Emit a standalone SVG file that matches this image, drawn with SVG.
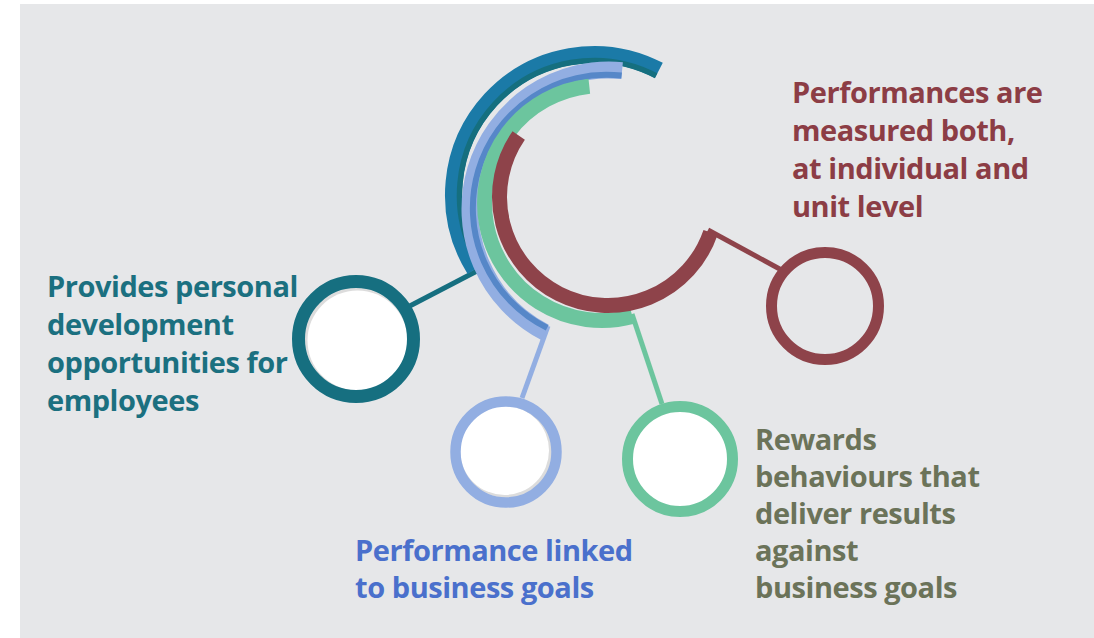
<svg xmlns="http://www.w3.org/2000/svg" width="1094" height="638" viewBox="0 0 1094 638">
<style>
.t{font-family:"Open Sans","Noto Sans",sans-serif;font-weight:700;font-size:29px;letter-spacing:-0.45px}
.teal{fill:#1b7080}.red{fill:#8c3d45}.blue{fill:#4a70cc}.olive{fill:#6b7359}
.arc{fill:none;stroke-linecap:butt}
.con{fill:none;stroke-linecap:butt;stroke-width:5}
</style>
<rect x="0" y="0" width="1094" height="638" fill="#ffffff"/>
<rect x="20" y="4" width="1074" height="634" fill="#e6e7e9"/>
<g id="connectors">
<line class="con" x1="477" y1="271" x2="404" y2="309" stroke="#166f80"/>
<line class="con" x1="548" y1="326" x2="522" y2="398" stroke="#92aee2" stroke-width="6"/>
<line class="con" x1="632" y1="314" x2="662" y2="404" stroke="#6cc59e"/>
<line class="con" x1="708" y1="230" x2="787" y2="273" stroke="#8e434a"/>
</g>
<g id="arcs">
<path class="arc" d="M474.85,269.45 A140.5,140.5 0 0 1 658.87,70.38" stroke="#1b7aa7" stroke-width="17"/>
<path class="arc" d="M479.94,266.27 A134.5,134.5 0 0 1 656.10,75.70" stroke="#156f7f" stroke-width="5.5"/>
<path class="arc" d="M544.82,332.29 A139,139 0 0 1 622.08,70.61" stroke="#92aee2" stroke-width="17"/>
<path class="arc" d="M547.13,327.86 A133.5,133.5 0 0 1 621.61,75.59" stroke="#5687c8" stroke-width="6"/>
<path class="arc" d="M632.41,316.50 A117.5,117.5 0 1 1 589.31,86.18" stroke="#6cc59e" stroke-width="15"/>
<path class="arc" d="M710.59,232.32 A108.5,108.5 0 1 1 518.69,135.39" stroke="#8e434a" stroke-width="15"/>
</g>
<g id="node-personal">
<circle cx="356" cy="339" r="51" fill="#dcdcdc"/>
<circle cx="357.5" cy="340.5" r="50" fill="#ffffff"/>
<circle cx="356" cy="339" r="57.5" fill="none" stroke="#166f80" stroke-width="13"/>
<text class="t teal" x="47" y="297">Provides personal</text>
<text class="t teal" x="47" y="335">development</text>
<text class="t teal" x="47" y="373">opportunities for</text>
<text class="t teal" x="47" y="411">employees</text>
</g>
<g id="node-linked">
<circle cx="506" cy="452" r="45.5" fill="#dcdcdc"/>
<circle cx="504.5" cy="450.5" r="44.5" fill="#ffffff"/>
<circle cx="506" cy="452" r="50.5" fill="none" stroke="#92aee2" stroke-width="10.5"/>
<text class="t blue" x="355" y="561">Performance linked</text>
<text class="t blue" x="355" y="598">to business goals</text>
</g>
<g id="node-rewards">
<circle cx="680" cy="459" r="52.5" fill="#ffffff" stroke="#6cc59e" stroke-width="11"/>
<text class="t olive" x="755" y="450">Rewards</text>
<text class="t olive" x="755" y="487">behaviours that</text>
<text class="t olive" x="755" y="524">deliver results</text>
<text class="t olive" x="755" y="561">against</text>
<text class="t olive" x="755" y="598">business goals</text>
</g>
<g id="node-measured">
<circle cx="825" cy="306" r="53.5" fill="none" stroke="#8e434a" stroke-width="11"/>
<text class="t red" x="792" y="103">Performances are</text>
<text class="t red" x="792" y="141">measured both,</text>
<text class="t red" x="792" y="179">at individual and</text>
<text class="t red" x="792" y="217">unit level</text>
</g>
</svg>
